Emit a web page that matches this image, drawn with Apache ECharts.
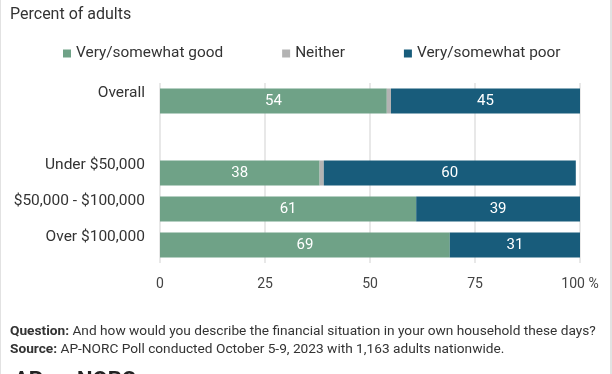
<!DOCTYPE html>
<html><head><meta charset="utf-8">
<script src="https://cdn.jsdelivr.net/npm/echarts@6/dist/echarts.min.js"></script>
<style>html,body{margin:0;padding:0;background:#fff}#c{width:612px;height:374px}</style>
</head><body><div id="c"></div>
<script>
const categories = ['Overall', '', 'Under $50,000', '$50,000 - $100,000', 'Over $100,000'];
const good = [54, '-', 38, 61, 69];
const neither = [1, '-', 1, 0, 0];
const poor = [45, '-', 60, 39, 31];
const seriesNames = ['Very/somewhat good', 'Neither', 'Very/somewhat poor'];
const xTicks = [0, 25, 50, 75, 100];

const FONT = 'Roboto';
const chart = echarts.init(document.getElementById('c'), null, {renderer: 'canvas'});
const labelStyle = {show: true, position: 'inside', color: '#fff', fontSize: 15, fontFamily: FONT,
  formatter: p => (p.value === 0 || p.value === '-') ? '' : p.value};
chart.setOption({
  animation: false,
  textStyle: {fontFamily: FONT},
  grid: {left: 160, right: 32, top: 83, bottom: 111, containLabel: false},
  legend: {
    left: 58, top: 41, icon: 'rect', itemWidth: 8, itemHeight: 8, itemGap: 59,
    textStyle: {fontSize: 15.4, color: '#333', fontFamily: FONT},
    data: seriesNames
  },
  xAxis: {
    type: 'value', min: xTicks[0], max: xTicks[xTicks.length - 1], interval: 25,
    axisLine: {show: false}, axisTick: {show: false},
    splitLine: {show: true, lineStyle: {color: '#e8e8e8', width: 2}},
    axisLabel: {color: '#444', fontSize: 14, margin: 14, fontFamily: FONT,
      formatter: v => v === 100 ? '100 %' : String(v)}
  },
  yAxis: {
    type: 'category', inverse: true, data: categories,
    axisLine: {show: false}, axisTick: {show: false},
    axisLabel: {color: '#333', fontSize: 15.5, margin: 15, fontFamily: FONT, verticalAlign: 'bottom', lineHeight: 16}
  },
  series: [
    {name: seriesNames[0], type: 'bar', stack: 's', barWidth: 25, data: good,
     itemStyle: {color: '#6fa287'}, label: labelStyle},
    {name: seriesNames[1], type: 'bar', stack: 's', barWidth: 25, data: neither,
     itemStyle: {color: '#b3b3b3'}, label: {show: false}},
    {name: seriesNames[2], type: 'bar', stack: 's', barWidth: 25, data: poor,
     itemStyle: {color: '#185c7b'}, label: labelStyle}
  ],
  graphic: [
    {type: 'text', left: 10, top: 7, style: {text: 'Percent of adults', fontSize: 16, fill: '#333', fontFamily: FONT}},
    {type: 'text', left: 10, top: 323, style: {
      text: '{b|Question:} And how would you describe the financial situation in your own household these days?\n{b|Source:} AP-NORC Poll conducted October 5-9, 2023 with 1,163 adults nationwide.',
      fill: '#333', fontSize: 13.7, lineHeight: 18, fontFamily: FONT,
      rich: {b: {fontWeight: 'bold', fontSize: 13.7, fill: '#333', fontFamily: FONT}}}},
    {type: 'text', left: 14, top: 370, style: {text: 'AP', fontSize: 22, fontWeight: 'bold', fill: '#222', fontFamily: FONT}},
    {type: 'text', left: 77, top: 370, style: {text: 'NORC', fontSize: 22, fontWeight: 'bold', fill: '#222', fontFamily: FONT}},
    {type: 'rect', left: 0, top: 0, shape: {width: 1, height: 374}, style: {fill: '#e2e2e2'}},
    {type: 'rect', left: 610, top: 0, shape: {width: 2, height: 374}, style: {fill: '#e2e2e2'}}
  ]
});
</script></body></html>
